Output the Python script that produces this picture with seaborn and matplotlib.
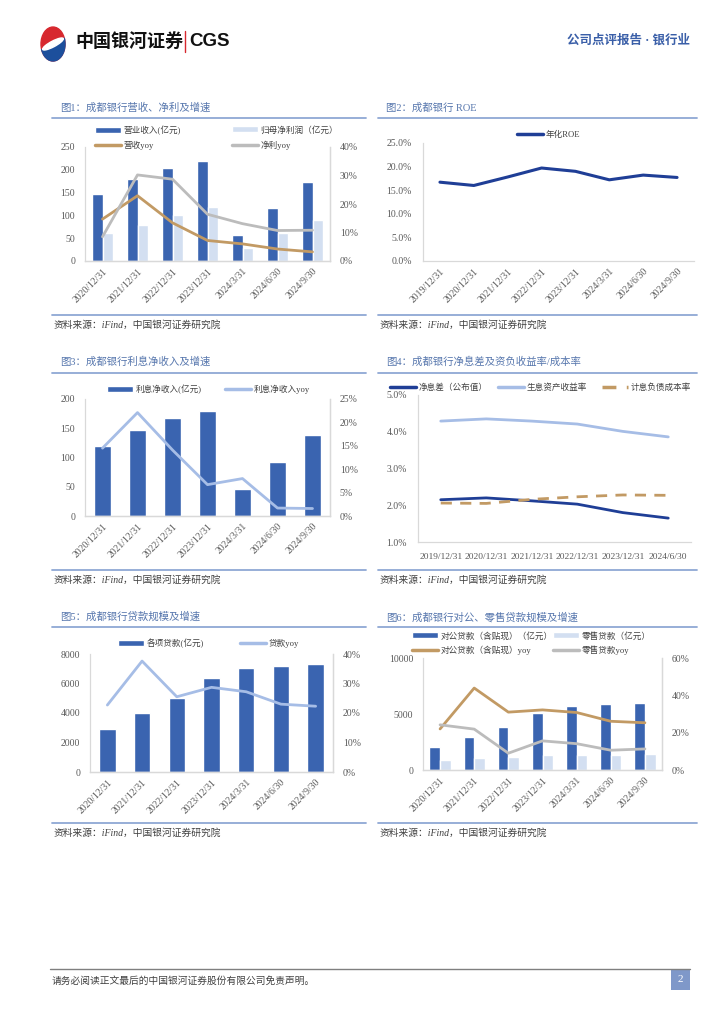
import matplotlib
matplotlib.use("Agg")
import matplotlib.pyplot as plt
import matplotlib.ticker as mtick
from matplotlib.lines import Line2D
from matplotlib.patches import Patch, Rectangle, Circle, Wedge, Ellipse
import numpy as np
import pandas as pd
import seaborn as sns

W, H = 724, 1024

DARK = '#3a64b0'
LIGHT = '#d3dff1'
BROWN = '#c29a64'
GRAY = '#bcbcbc'
SKY = '#a6bde6'
NAVY = '#1f3e96'
TITLE_C = '#5676ad'
RULE_C = '#8fa8d4'
TICK_C = '#595959'
SPINE_C = '#d9d9d9'
TEXT_C = '#404040'

dates7 = ['2020/12/31', '2021/12/31', '2022/12/31', '2023/12/31',
          '2024/3/31', '2024/6/30', '2024/9/30']
revenue = [146, 180, 204, 219, 57, 116, 173]
net_profit = [61, 79, 101, 118, 29, 62, 91]
revenue_yoy = [14.7, 22.9, 13.4, 7.2, 6.0, 4.2, 3.2]
profit_yoy = [8.5, 30.2, 28.7, 16.4, 13.1, 10.7, 10.8]

roe_dates = ['2019/12/31', '2020/12/31', '2021/12/31', '2022/12/31',
             '2023/12/31', '2024/3/31', '2024/6/30', '2024/9/30']
roe = [16.7, 16.0, 17.8, 19.7, 19.0, 17.2, 18.2, 17.7]

nii = [119, 147, 167, 179, 47, 92, 138]
nii_yoy = [14.5, 22.1, 14.1, 6.7, 8.0, 1.7, 1.6]

nim_dates = ['2019/12/31', '2020/12/31', '2021/12/31', '2022/12/31',
             '2023/12/31', '2024/6/30']
nim = [2.15, 2.20, 2.12, 2.03, 1.80, 1.65]
asset_yield = [4.29, 4.35, 4.29, 4.21, 4.01, 3.86]
liab_cost = [2.06, 2.05, 2.16, 2.23, 2.28, 2.27]

loans = [2924, 3989, 4986, 6368, 7025, 7184, 7343]
loans_yoy = [22.7, 37.6, 25.5, 28.7, 27.2, 23.0, 22.3]

corp_loans = [2090, 2925, 3851, 5075, 5731, 5851, 5970]
retail_loans = [896, 1075, 1134, 1343, 1343, 1373, 1433]
corp_yoy = [22.0, 43.9, 31.0, 32.2, 30.8, 26.1, 25.3]
retail_yoy = [24.2, 21.9, 9.0, 15.6, 14.1, 10.6, 11.3]

SOURCE = '资料来源：iFind，中国银河证券研究院'

sns.set_theme(style='white')
plt.rcParams['font.family'] = ['Liberation Serif', 'Noto Sans CJK SC', 'DejaVu Sans']

fig = plt.figure(figsize=(W / 100, H / 100), dpi=100)


def fx(x):
    return x / W


def fy(y):
    return 1 - y / H


def px_axes(x0, y0, x1, y1):
    return fig.add_axes([fx(x0), fy(y1), (x1 - x0) / W, (y1 - y0) / H])


def hline(x0, x1, y, color=RULE_C, lw=1.3):
    fig.add_artist(Line2D([fx(x0), fx(x1)], [fy(y), fy(y)], color=color, lw=lw))


def panel_frame(x0, x1, y_title, y_rule, y_src_rule, title):
    fig.text(fx(x0 + 8), fy(y_title), title, fontsize=7.5, color=TITLE_C, va='center')
    hline(x0, x1, y_rule)
    hline(x0, x1, y_src_rule)
    fig.text(fx(x0 + 2), fy(y_src_rule + 10), SOURCE, fontsize=7, color=TEXT_C,
             va='center', style='italic')


def put_legend(handle, label, x, y):
    fig.legend([handle], [label], loc='center left', bbox_to_anchor=(fx(x), fy(y)),
               frameon=False, fontsize=6.2, handlelength=3.0, handletextpad=0.3,
               borderpad=0, borderaxespad=0, labelcolor=TEXT_C)


def style_axes(ax, right=False, ypad=7):
    ax.spines['top'].set_visible(False)
    ax.spines['right'].set_visible(right)
    for s in ['left', 'bottom', 'right']:
        ax.spines[s].set_color(SPINE_C)
        ax.spines[s].set_linewidth(0.9)
    ax.tick_params(length=0, labelsize=7, colors=TICK_C)
    ax.tick_params(axis='y', pad=ypad)
    ax.set_xlabel('')
    ax.set_ylabel('')
    ax.grid(False)
    ax.patch.set_alpha(0)


def rotate_labels(ax, labels):
    ax.set_xticks(np.arange(len(labels)))
    ax.set_xticklabels(labels, rotation=45, ha='right', rotation_mode='anchor')
    ax.tick_params(axis='x', pad=4)


def bar_line_panel(rect, bar_df, palette, width, lines, ylim, yticks, rlim, rticks):
    ax = px_axes(*rect)
    sns.barplot(data=bar_df, x='date', y='value', hue='series', palette=palette,
                width=width, gap=0, saturation=1, errorbar=None, legend=False, ax=ax)
    ax2 = ax.twinx()
    x = np.arange(len(dates7))
    for vals, color in lines:
        sns.lineplot(x=x, y=vals, color=color, lw=2, ax=ax2)
    ax.set_ylim(*ylim)
    ax.set_yticks(yticks)
    ax2.set_ylim(*rlim)
    ax2.set_yticks(rticks)
    ax2.yaxis.set_major_formatter(mtick.PercentFormatter(decimals=0))
    style_axes(ax, right=True)
    style_axes(ax2, right=True)
    ax2.spines['left'].set_visible(False)
    ax.set_xlim(-0.5, len(dates7) - 0.5)
    rotate_labels(ax, dates7)
    return ax, ax2


# ---- header ----
fig.add_artist(Circle((fx(53), fy(44)), 12 / W, transform=fig.transFigure, color='#d7282f'))
fig.add_artist(Wedge((fx(53), fy(44)), 12 / W, 200, 20, transform=fig.transFigure,
                     color='#1c4f9c'))
fig.add_artist(Ellipse((fx(53), fy(44)), 22 / W, 6 / H, angle=20,
                       transform=fig.transFigure, color='white'))
fig.text(fx(75), fy(41), '中国银河证券', fontsize=13, fontweight='bold', color='#111111',
         va='center', family=['Noto Sans CJK SC'])
fig.add_artist(Line2D([fx(185), fx(185)], [fy(31), fy(52)], color='#d7282f', lw=1))
fig.text(fx(189), fy(41), 'CGS', fontsize=13.5, fontweight='bold', color='#111111',
         va='center', family=['Liberation Sans'])
fig.text(fx(690), fy(41), '公司点评报告 · 银行业', fontsize=9, color='#3a5fa8',
         ha='right', va='center', fontweight='bold')

# ---- panel frames ----
panel_frame(52, 366, 108, 117.5, 315, '图1：成都银行营收、净利及增速')
panel_frame(378, 697, 108, 117.5, 315, '图2：成都银行 ROE')
panel_frame(52, 366, 362, 372.5, 570, '图3：成都银行利息净收入及增速')
panel_frame(378, 697, 362, 372.5, 570, '图4：成都银行净息差及资负收益率/成本率')
panel_frame(52, 366, 617, 626.5, 823, '图5：成都银行贷款规模及增速')
panel_frame(378, 697, 617, 626.5, 823, '图6：成都银行对公、零售贷款规模及增速')

# ---- 图1 ----
df1 = pd.DataFrame({'date': dates7 * 2, 'value': revenue + net_profit,
                    'series': ['营业收入(亿元)'] * 7 + ['归母净利润（亿元）'] * 7})
bar_line_panel((85, 147, 330, 261), df1, [DARK, LIGHT], 0.6,
               [(revenue_yoy, BROWN), (profit_yoy, GRAY)],
               (0, 250), range(0, 251, 50), (0, 40), range(0, 41, 10))
put_legend(Patch(facecolor=DARK), '营业收入(亿元)', 95, 130)
put_legend(Patch(facecolor=LIGHT), '归母净利润（亿元）', 232, 130)
put_legend(Line2D([], [], color=BROWN, lw=2.5), '营收yoy', 95, 145)
put_legend(Line2D([], [], color=GRAY, lw=2.5), '净利yoy', 232, 145)

# ---- 图2 ----
ax = px_axes(423, 143, 694, 261)
sns.lineplot(x=np.arange(len(roe_dates)), y=roe, color=NAVY, lw=2.2, ax=ax)
ax.set_ylim(0, 25)
ax.set_yticks(range(0, 26, 5))
ax.yaxis.set_major_formatter(mtick.PercentFormatter(decimals=1))
style_axes(ax, ypad=8)
ax.set_xlim(-0.5, len(roe_dates) - 0.5)
rotate_labels(ax, roe_dates)
put_legend(Line2D([], [], color=NAVY, lw=2.5), '年化ROE', 517, 135)

# ---- 图3 ----
df3 = pd.DataFrame({'date': dates7, 'value': nii, 'series': ['利息净收入(亿元)'] * 7})
bar_line_panel((85, 399, 330, 516), df3, [DARK], 0.47, [(nii_yoy, SKY)],
               (0, 200), range(0, 201, 50), (0, 25), range(0, 26, 5))
put_legend(Patch(facecolor=DARK), '利息净收入(亿元)', 107, 389)
put_legend(Line2D([], [], color=SKY, lw=2.5), '利息净收入yoy', 225, 389)

# ---- 图4 ----
ax = px_axes(418, 395, 691, 542)
xn = np.arange(len(nim_dates))
sns.lineplot(x=xn, y=nim, color=NAVY, lw=2, ax=ax)
sns.lineplot(x=xn, y=asset_yield, color=SKY, lw=2, ax=ax)
sns.lineplot(x=xn, y=liab_cost, color=BROWN, lw=2, ax=ax)
ax.lines[-1].set_dashes((4, 3))
ax.set_ylim(1, 5)
ax.set_yticks([1, 2, 3, 4, 5])
ax.yaxis.set_major_formatter(mtick.PercentFormatter(decimals=1))
style_axes(ax, ypad=8)
ax.set_xlim(-0.5, len(nim_dates) - 0.5)
ax.set_xticks(xn)
ax.set_xticklabels(nim_dates)
ax.tick_params(axis='x', pad=8, labelsize=6.8)
put_legend(Line2D([], [], color=NAVY, lw=2.5), '净息差（公布值）', 390, 388)
put_legend(Line2D([], [], color=SKY, lw=2.5), '生息资产收益率', 498, 388)
put_legend(Line2D([], [], color=BROWN, lw=2.5, dashes=(4, 3)), '计息负债成本率', 602, 388)

# ---- 图5 ----
df5 = pd.DataFrame({'date': dates7, 'value': loans, 'series': ['各项贷款(亿元)'] * 7})
bar_line_panel((90, 654, 333, 772), df5, [DARK], 0.47, [(loans_yoy, SKY)],
               (0, 8000), range(0, 8001, 2000), (0, 40), range(0, 41, 10))
put_legend(Patch(facecolor=DARK), '各项贷款(亿元)', 118, 643)
put_legend(Line2D([], [], color=SKY, lw=2.5), '贷款yoy', 240, 643)

# ---- 图6 ----
df6 = pd.DataFrame({'date': dates7 * 2, 'value': corp_loans + retail_loans,
                    'series': ['对公贷款（含贴现）（亿元）'] * 7 + ['零售贷款（亿元）'] * 7})
bar_line_panel((423, 658, 662, 770), df6, [DARK, LIGHT], 0.62,
               [(corp_yoy, BROWN), (retail_yoy, GRAY)],
               (0, 10000), [0, 5000, 10000], (0, 60), range(0, 61, 20))
put_legend(Patch(facecolor=DARK), '对公贷款（含贴现）（亿元）', 412, 636)
put_legend(Patch(facecolor=LIGHT), '零售贷款（亿元）', 553, 636)
put_legend(Line2D([], [], color=BROWN, lw=2.5), '对公贷款（含贴现）yoy', 412, 650)
put_legend(Line2D([], [], color=GRAY, lw=2.5), '零售贷款yoy', 553, 650)

# ---- footer ----
hline(50, 690, 969, color='#7f7f7f', lw=1)
fig.text(fx(52), fy(981), '请务必阅读正文最后的中国银河证券股份有限公司免责声明。',
         fontsize=7, color=TEXT_C, va='center')
fig.add_artist(Rectangle((fx(671), fy(990)), 19 / W, 21 / H, transform=fig.transFigure,
                         facecolor='#7f98c9', edgecolor='none'))
fig.text(fx(680.5), fy(980), '2', fontsize=8, color='white', ha='center', va='center')

fig.savefig('out.png', dpi=100)
